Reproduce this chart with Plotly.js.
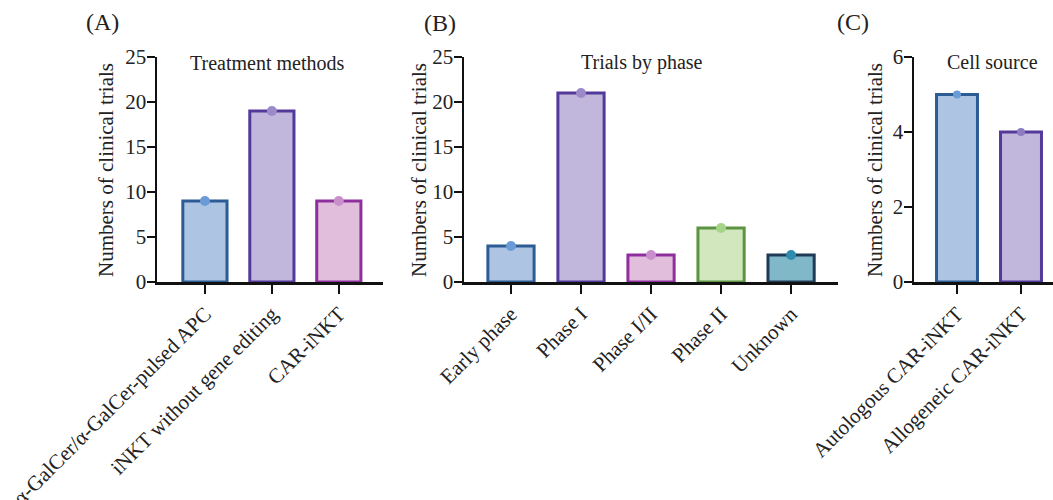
<!DOCTYPE html>
<html>
<head>
<meta charset="utf-8">
<script src="https://cdn.plot.ly/plotly-3.0.1.min.js"></script>
<style>html,body{margin:0;padding:0;background:#fff}#chart{width:1053px;height:500px}</style>
</head>
<body>
<div id="chart"></div>
<script>
// ---- data ----
const catsA = ['α-GalCer/α-GalCer-pulsed APC', 'iNKT without gene editing', 'CAR-iNKT'];
const valsA = [9, 19, 9];
const catsB = ['Early phase', 'Phase I', 'Phase I/II', 'Phase II', 'Unknown'];
const valsB = [4, 21, 3, 6, 3];
const catsC = ['Autologous CAR-iNKT', 'Allogeneic CAR-iNKT'];
const valsC = [5, 4];
const panelTitles = ['Treatment methods', 'Trials by phase', 'Cell source'];
const panelLabels = ['(A)', '(B)', '(C)'];
const yTitle = 'Numbers of clinical trials';

// ---- styles ----
const fillA = ['#adc5e3', '#c1b6db', '#e1bfdc'];
const edgeA = ['#2d5b94', '#53399a', '#8f2f9e'];
const dotA = ['#6b9bd6', '#9c89c8', '#c98fcc'];
const fillB = ['#adc5e3', '#c1b6db', '#e1bfdc', '#d3e7bf', '#80b8c8'];
const edgeB = ['#2d5b94', '#53399a', '#8f2f9e', '#5b9443', '#1f3b55'];
const dotB = ['#6b9bd6', '#9c89c8', '#c98fcc', '#a6d489', '#2f8cae'];
const fillC = ['#adc5e3', '#c1b6db'];
const edgeC = ['#2d5b94', '#53399a'];
const dotC = ['#6b9bd6', '#8e7cc3'];

const FONT = 'Liberation Serif, Times New Roman, serif';
const W = 1053, H = 500;

function bars(x, y, fill, edge, width, xa, ya) {
  return {type: 'bar', x: x, y: y, xaxis: xa, yaxis: ya, width: width,
    marker: {color: fill, line: {color: edge, width: 3}}, showlegend: false, hoverinfo: 'skip'};
}
function dots(x, y, col, size, xa, ya) {
  return {type: 'scatter', mode: 'markers', x: x, y: y, xaxis: xa, yaxis: ya,
    marker: {color: col, size: size}, showlegend: false, cliponaxis: false, hoverinfo: 'skip'};
}

const data = [
  bars(catsA, valsA, fillA, edgeA, 0.66, 'x', 'y'),
  dots(catsA, valsA, dotA, 10, 'x', 'y'),
  bars(catsB, valsB, fillB, edgeB, 0.66, 'x2', 'y2'),
  dots(catsB, valsB, dotB, 10, 'x2', 'y2'),
  bars(catsC, valsC, fillC, edgeC, 0.64, 'x3', 'y3'),
  dots(catsC, valsC, dotC, 8, 'x3', 'y3')
];

const yDom = [1 - 282 / H, 1 - 57 / H];
function xaxis(dom, range, anchor) {
  return {domain: dom, range: range, anchor: anchor, type: 'category',
    showline: true, linecolor: '#111', linewidth: 2.5, mirror: false,
    ticks: 'outside', ticklen: 9, tickwidth: 2, tickcolor: '#111',
    tickangle: -45, tickfont: {family: FONT, size: 21, color: '#222'},
    showgrid: false, zeroline: false, fixedrange: true};
}
function yaxis(range, dtick, anchor) {
  return {domain: yDom, range: range, dtick: dtick, anchor: anchor,
    showline: true, linecolor: '#111', linewidth: 2.5,
    ticks: 'outside', ticklen: 8, tickwidth: 2, tickcolor: '#111',
    ticklabelstandoff: -4,
    tickfont: {family: FONT, size: 21, color: '#222'},
    showgrid: false, zeroline: false, fixedrange: true};
}

function ann(text, xpx, ypx, size, angle) {
  const a = {text: text, x: xpx / W, y: 1 - ypx / H, xref: 'paper', yref: 'paper', showarrow: false,
    xanchor: 'center', yanchor: 'middle', font: {family: FONT, size: size, color: '#222'}};
  if (angle) a.textangle = angle;
  return a;
}

const layout = {
  width: W, height: H,
  margin: {l: 0, r: 0, t: 0, b: 0},
  paper_bgcolor: '#fff', plot_bgcolor: 'rgba(0,0,0,0)',
  font: {family: FONT, color: '#222'},
  xaxis: xaxis([157 / W, 383 / W], [-0.716, 2.66], 'y'),
  yaxis: yaxis([0, 25], 5, 'x'),
  xaxis2: xaxis([464 / W, 838 / W], [-0.671, 4.67], 'y2'),
  yaxis2: yaxis([0, 25], 5, 'x2'),
  xaxis3: xaxis([914 / W, 1], [-0.672, 1.5], 'y3'),
  yaxis3: yaxis([0, 6], 2, 'x3'),
  annotations: [
    ann(panelTitles[0], 267, 63, 20),
    ann(panelTitles[1], 642, 62, 20),
    ann(panelTitles[2], 992, 62, 20),
    ann(panelLabels[0], 102, 22, 24),
    ann(panelLabels[1], 440, 23, 24),
    ann(panelLabels[2], 853, 22, 24),
    ann(yTitle, 106, 170, 21, -90),
    ann(yTitle, 419, 170, 21, -90),
    ann(yTitle, 875, 170, 21, -90)
  ]
};

Plotly.newPlot('chart', data, layout, {displayModeBar: false, staticPlot: true});
</script>
</body>
</html>
